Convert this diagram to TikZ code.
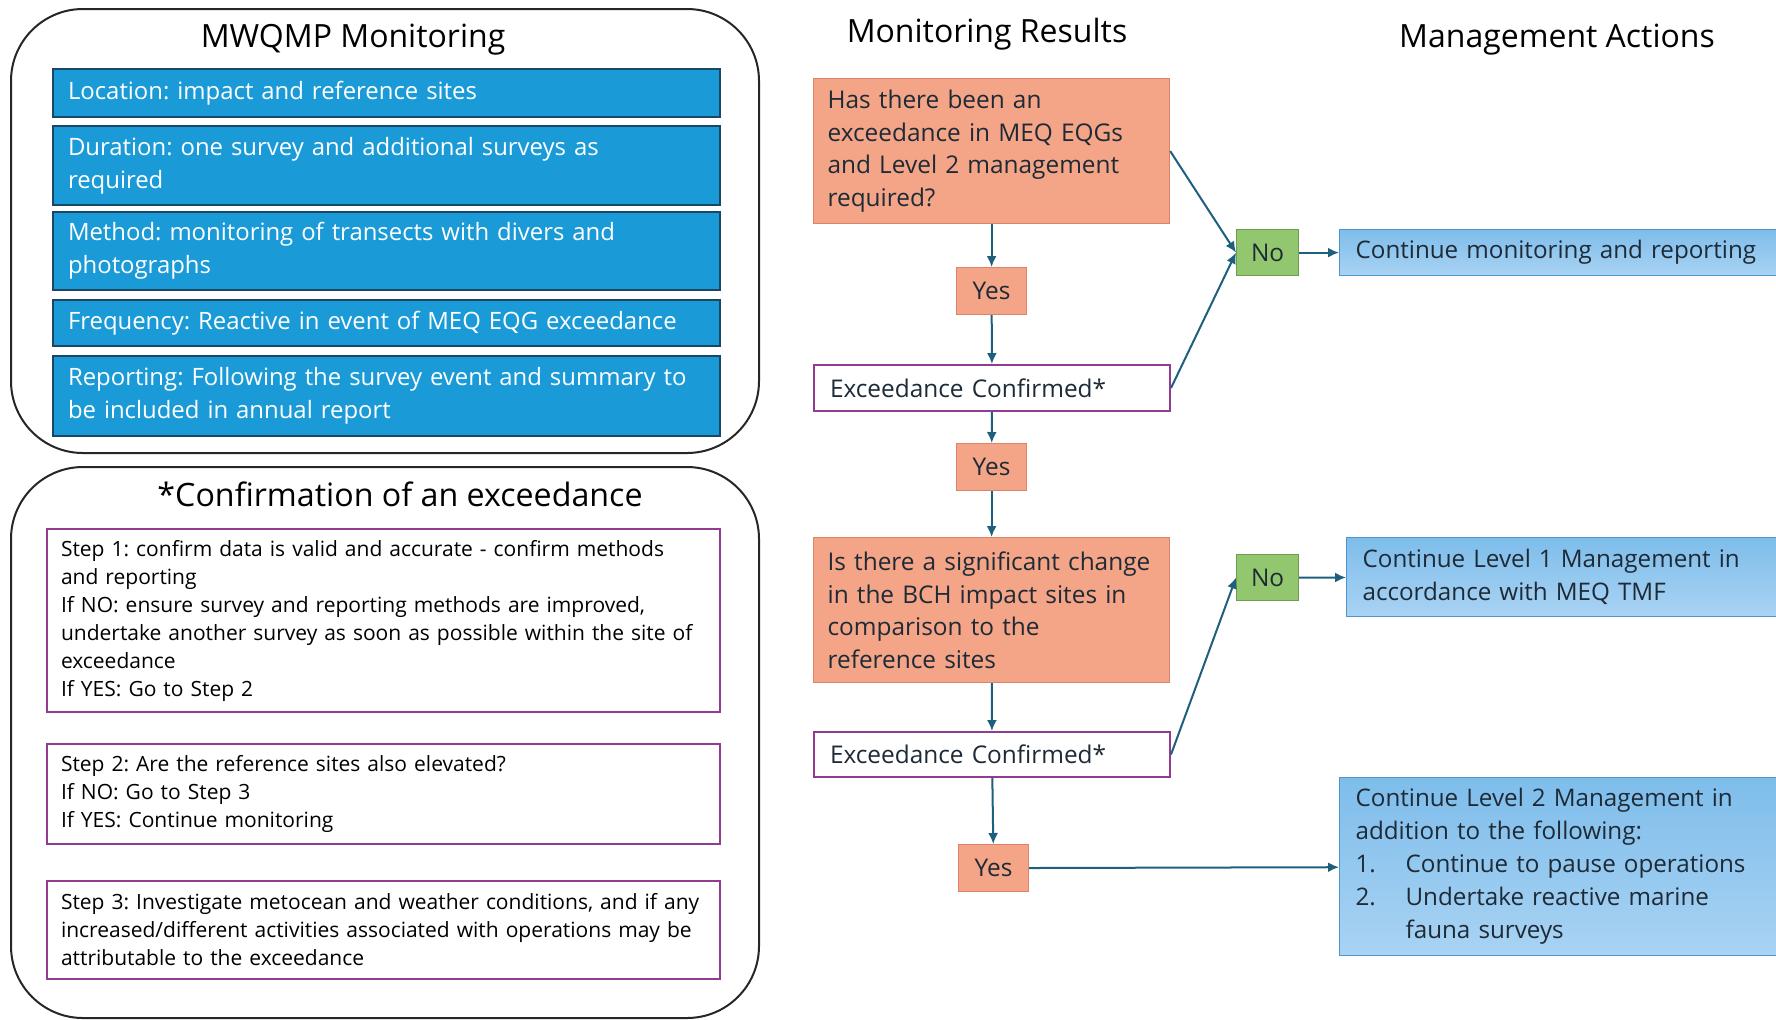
\documentclass[tikz,border=0pt]{standalone}
\usepackage{fontspec}
\setmainfont{Open Sans}
\usetikzlibrary{arrows.meta}
\frenchspacing
\definecolor{itemblue}{HTML}{1A9BD7}
\definecolor{itemline}{HTML}{1B4767}
\definecolor{qorange}{HTML}{F4A587}
\definecolor{qline}{HTML}{DC8466}
\definecolor{steppurple}{HTML}{913C91}
\definecolor{nogreen}{HTML}{92C770}
\definecolor{noline}{HTML}{6C9E4E}
\definecolor{acttop}{HTML}{7EBDEB}
\definecolor{actbot}{HTML}{A9D3F3}
\definecolor{actline}{HTML}{4C96CB}
\definecolor{flowline}{HTML}{1F5F7E}
\definecolor{darktext}{HTML}{1E2A36}

\tikzset{
  panel/.style={draw=black!85, line width=1pt, rounded corners=36pt},
  heading/.style={font=\fontsize{16}{19}\selectfont},
  item/.style={draw=itemline, line width=1pt, fill=itemblue, text=white, anchor=north west,
    align=left, inner xsep=7.5pt, inner ysep=0pt, font=\fontsize{11.95}{16.5}\selectfont},
  stepbox/.style={draw=steppurple, line width=1pt, fill=white, anchor=north west,
    align=left, inner xsep=7pt, inner ysep=0pt, font=\fontsize{10.5}{14}\selectfont},
  qbox/.style={draw=qline, line width=0.6pt, fill=qorange, text=darktext, anchor=north west,
    align=left, inner xsep=7pt, inner ysep=0pt, font=\fontsize{12.2}{16.3}\selectfont},
  confbox/.style={draw=steppurple, line width=1pt, fill=white, text=darktext, anchor=north west,
    align=left, inner xsep=8pt, inner ysep=0pt, font=\fontsize{12.2}{16.3}\selectfont},
  yesbox/.style={draw=qline, line width=0.6pt, fill=qorange, text=darktext, anchor=north west,
    minimum width=35pt, minimum height=23.5pt, inner sep=0pt, font=\fontsize{12.2}{14}\selectfont},
  nobox/.style={draw=noline, line width=0.6pt, fill=nogreen, text=darktext, anchor=north west,
    minimum width=31pt, minimum height=23pt, inner sep=0pt, font=\fontsize{12.2}{14}\selectfont},
  actbox/.style={draw=actline, line width=0.6pt, top color=acttop, bottom color=actbot, text=darktext,
    anchor=north west, align=left, inner xsep=8pt, inner ysep=0pt, font=\fontsize{12.1}{16.5}\selectfont},
  flow/.style={draw=flowline, line width=1pt, -{Latex[length=5.5pt,width=5pt]}}
}

\begin{document}
\begin{tikzpicture}[x=0.5pt,y=-0.5pt]
\useasboundingbox (0,0) rectangle (1776,1019);

%left panels
\draw[panel] (11,9) rectangle (759,453);
\draw[panel] (11,467) rectangle (759,1018);
\node[heading] (montitle) at (353,40) {MWQMP Monitoring};
\node[heading, font=\fontsize{16.1}{19}\selectfont] (conftitle) at (400,494) {*Confirmation of an exceedance};

%monitoring items
\foreach \name/\y/\h/\txt in {
  loc/68/24/{Location: impact and reference sites},
  dur/125/39.5/{Duration: one survey and additional surveys as\\required},
  meth/211/39/{Method: monitoring of transects with divers and\\photographs},
  freq/299/23/{Frequency: Reactive in event of MEQ EQG exceedance},
  rep/355/40/{Reporting: Following the survey event and summary to\\be included in annual report}}{
  \node[item, minimum width=333.5pt, text width=318.5pt, minimum height=\h pt] (\name) at (52,\y) {\txt};
}

%confirmation steps
\node[stepbox, minimum width=336.5pt, text width=322.5pt, minimum height=91.5pt] (step1) at (46,528)
  {Step 1: confirm data is valid and accurate - confirm methods\\and reporting\\If NO: ensure survey and reporting methods are improved,\\undertake another survey as soon as possible within the site of\\exceedance\\If YES: Go to Step 2};
\node[stepbox, minimum width=336.5pt, text width=322.5pt, minimum height=50pt] (step2) at (46,743)
  {Step 2: Are the reference sites also elevated?\\If NO: Go to Step 3\\If YES: Continue monitoring};
\node[stepbox, minimum width=336.5pt, text width=322.5pt, minimum height=49pt] (step3) at (46,880)
  {Step 3: Investigate metocean and weather conditions, and if any\\increased/different activities associated with operations may be\\attributable to the exceedance};

%monitoring results
\node[heading] (restitle) at (987,34) {Monitoring Results};
\node[qbox, minimum width=178pt, text width=164pt, minimum height=72.5pt] (q1) at (813,78)
  {Has there been an\\exceedance in MEQ EQGs\\and Level 2 management\\required?};
\node[yesbox] (yes1) at (956,267) {Yes};
\node[confbox, minimum width=178pt, text width=162pt, minimum height=23pt] (ec1) at (813,364) {Exceedance Confirmed*};
\node[yesbox] (yes2) at (956,443) {Yes};
\node[qbox, minimum width=178pt, text width=164pt, minimum height=72.5pt] (q2) at (813,537)
  {Is there a significant change\\in the BCH impact sites in\\comparison to the\\reference sites};
\node[confbox, minimum width=178pt, text width=162pt, minimum height=22.5pt] (ec2) at (813,731) {Exceedance Confirmed*};
\node[yesbox] (yes3) at (958,844) {Yes};

%decisions
\node[nobox] (no1) at (1236,229) {No};
\node[nobox] (no2) at (1236,554) {No};

%management actions
\node[heading] (acttitle) at (1557,40) {Management Actions};
\node[actbox, minimum width=230pt, text width=214pt, minimum height=23pt] (act1) at (1339,229)
  {Continue monitoring and reporting};
\node[actbox, minimum width=227pt, text width=211pt, minimum height=39.5pt] (act2) at (1346,537)
  {Continue Level 1 Management in\\accordance with MEQ TMF};
\node[actbox, minimum width=230pt, text width=214pt, minimum height=89pt, inner xsep=6.5pt] (act3) at (1339,777)
  {Continue Level 2 Management in\\addition to the following:\\\makebox[25pt][l]{1.}Continue to pause operations\\\makebox[25pt][l]{2.}Undertake reactive marine\\\hspace*{25pt}fauna surveys};

%connectors
\foreach \a/\b in {q1/yes1, yes1/ec1, ec1/yes2, yes2/q2, q2/ec2, ec2/yes3}
  \draw[flow] (\a) -- (\b);
\draw[flow] (q1.east) -- (no1.west);
\draw[flow] (ec1.east) -- (no1.west);
\draw[flow] (ec2.east) -- (no2.west);
\draw[flow] (no1) -- (act1);
\draw[flow] (no2) -- (act2);
\draw[flow] (yes3) -- (act3);
\end{tikzpicture}
\end{document}
